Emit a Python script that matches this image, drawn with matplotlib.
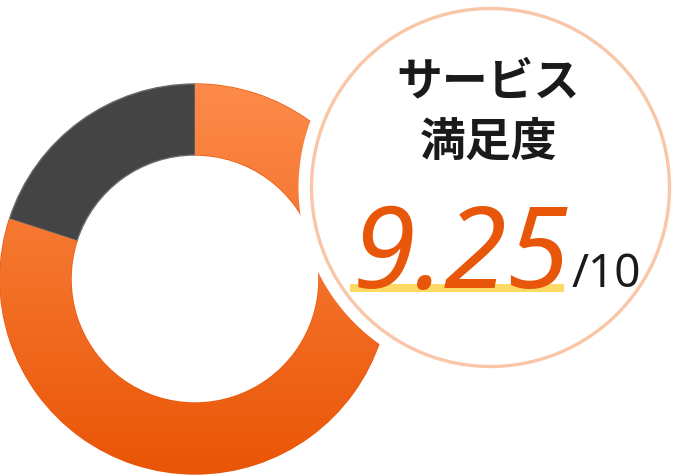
import matplotlib
matplotlib.use("Agg")
import matplotlib.pyplot as plt
import numpy as np
from matplotlib.colors import LinearSegmentedColormap
from matplotlib.patches import Circle, Rectangle

# ---- data ----
segments = ["満足", "その他"]
shares = [80, 20]
title_lines = ["サービス", "満足度"]
score = 9.25
score_max = 10

W, H = 680, 477
fig = plt.figure(figsize=(W / 100, H / 100), dpi=100)
ax = fig.add_axes([0, 0, 1, 1])

cx, cy, R, ring_w = 195, 197, 195, 71
wedges, _ = ax.pie(shares, colors=["#f26b1f", "#444444"], startangle=90,
                   counterclock=False, radius=R, center=(cx, cy),
                   wedgeprops=dict(width=ring_w, linewidth=1.0))
wedges[0].set_edgecolor("#e8580c")
wedges[1].set_edgecolor("#6a6a6a")

# gradient fill on the orange segment
cmap = LinearSegmentedColormap.from_list("og", ["#ea5506", "#f37128", "#fd8a4a"])
grad = np.linspace(0, 1, 256).reshape(-1, 1)
im = ax.imshow(grad, extent=[cx - R, cx + R, cy - R, cy + R], origin="lower",
               cmap=cmap, aspect="auto", zorder=1.5)
im.set_clip_path(wedges[0])

# callout circle
ccx, ccy = 490.5, 288.5
ax.add_patch(Circle((ccx, ccy), 192, facecolor="white", edgecolor="none", zorder=3))
ax.add_patch(Circle((ccx, ccy), 179, facecolor="white", edgecolor="#f9c6a8",
                    linewidth=2.4, zorder=4))

jp = ["Noto Sans CJK JP", "DejaVu Sans"]
ax.text(488, 395, title_lines[0], ha="center", va="center", fontsize=33,
        fontweight="bold", family=jp, color="#1a1a1a", zorder=6)
ax.text(489, 334, title_lines[1], ha="center", va="center", fontsize=33,
        fontweight="bold", family=jp, color="#1a1a1a", zorder=6)

ax.add_patch(Rectangle((350, 184), 214, 8, facecolor="#fdd966", edgecolor="none", zorder=5))
ax.text(353, 189, f"{score:.2f}", ha="left", va="baseline", fontsize=82,
        family="Noto Sans", style="italic", color="#e8560a", zorder=6)
ax.text(572, 190, f"/{score_max}", ha="left", va="baseline", fontsize=33,
        family="Noto Sans", color="#1a1a1a", zorder=6)

ax.set_xlim(0, W)
ax.set_ylim(0, H)
ax.set_aspect("auto")
ax.set_axis_off()
fig.savefig("out.png", dpi=100)
